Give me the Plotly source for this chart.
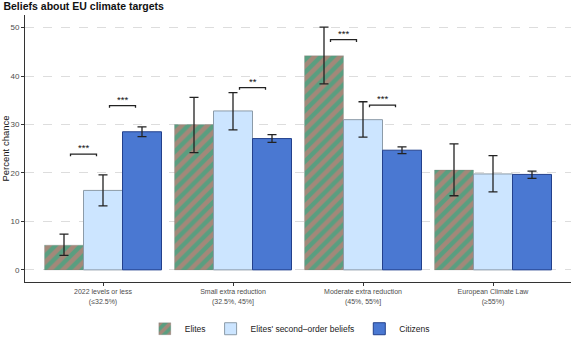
import plotly.graph_objects as go

categories = ["2022 levels or less<br>(≤32.5%)", "Small extra reduction<br>(32.5%, 45%]",
              "Moderate extra reduction<br>(45%, 55%]", "European Climate Law<br>(≥55%)"]
series_names = ["Elites", "Elites' second\u2013order beliefs", "Citizens"]

elites = [5.1, 30.0, 44.2, 20.6]
elites_lo = [3.0, 24.2, 38.4, 15.3]
elites_hi = [7.4, 35.6, 50.1, 26.0]

sob = [16.4, 32.8, 31.0, 19.8]
sob_lo = [13.2, 28.9, 27.4, 16.1]
sob_hi = [19.6, 36.6, 34.7, 23.6]

citizens = [28.5, 27.1, 24.7, 19.7]
citizens_lo = [27.5, 26.3, 24.0, 18.9]
citizens_hi = [29.5, 27.9, 25.4, 20.4]

# (category index, bar a, bar b, height, label)
brackets = [(0, 0, 1, 23.9, "***"), (0, 1, 2, 33.9, "***"), (1, 1, 2, 37.6, "**"),
            (2, 0, 1, 47.5, "***"), (2, 1, 2, 34.0, "***")]

bar_w = 0.3
offsets = [-0.3, 0.0, 0.3]

series = [
    (elites, elites_lo, elites_hi,
     dict(color="#5A9E80", line=dict(color="rgba(120,120,120,0.5)", width=0.5),
          pattern=dict(shape="/", bgcolor="#5A9E80", fgcolor="#EC7272", solidity=0.5, size=9))),
    (sob, sob_lo, sob_hi,
     dict(color="#CCE5FF", line=dict(color="#8C9BA8", width=1))),
    (citizens, citizens_lo, citizens_hi,
     dict(color="#4A78D2", line=dict(color="#23408C", width=1))),
]

fig = go.Figure()
for j, (vals, lo, hi, marker) in enumerate(series):
    xs = [i + offsets[j] for i in range(len(categories))]
    fig.add_trace(go.Bar(
        x=xs, y=vals, width=bar_w, name=series_names[j], marker=marker,
        error_y=dict(type="data", symmetric=False,
                     array=[h - v for h, v in zip(hi, vals)],
                     arrayminus=[v - l for v, l in zip(vals, lo)],
                     color="#222222", thickness=1.3, width=4.5),
    ))

shapes = []
annotations = []
gap = 0.05
tick = 0.45
for (c, a, b, yv, lab) in brackets:
    x0 = c + offsets[a] + gap
    x1 = c + offsets[b] - gap
    shapes.append(dict(type="path", xref="x", yref="y",
                       path=f"M {x0},{yv - tick} L {x0},{yv} L {x1},{yv} L {x1},{yv - tick}",
                       line=dict(color="#222222", width=1.3)))
    annotations.append(dict(x=(x0 + x1) / 2, y=yv, xref="x", yref="y", text=lab,
                            showarrow=False, yanchor="bottom", yshift=-1,
                            font=dict(size=9.5, color="#111111", family="Liberation Sans")))

fig.update_layout(
    width=575, height=338,
    margin=dict(l=25, r=4, t=15, b=56, autoexpand=False),
    plot_bgcolor="white", paper_bgcolor="white",
    font=dict(family="Liberation Sans", color="#4D4D4D", size=8),
    title=dict(text="<b>Beliefs about EU climate targets</b>", x=0.006, xanchor="left",
               y=0.992, yanchor="top", font=dict(size=10.5, color="#111111")),
    barmode="overlay",
    showlegend=True,
    legend=dict(orientation="h", x=0.485, xanchor="center", y=-0.175, yanchor="middle",
                font=dict(size=8.5, color="#222222"), itemwidth=30, traceorder="normal"),
    shapes=shapes, annotations=annotations,
)
fig.update_xaxes(range=[-0.6, 3.6], tickvals=list(range(len(categories))), ticktext=categories,
                 showgrid=False, zeroline=False, showline=True, linecolor="#333333", linewidth=1,
                 ticks="outside", ticklen=3, tickcolor="#333333", automargin=False,
                 tickfont=dict(size=7, color="#4D4D4D"))
fig.update_yaxes(range=[-2.5, 52.6], tickvals=[0, 10, 20, 30, 40, 50], showgrid=True,
                 gridcolor="#DDDDDD", griddash="dash", gridwidth=1, zeroline=False,
                 showline=True, linecolor="#333333", linewidth=1, ticks="outside", ticklen=3,
                 tickcolor="#333333", tickfont=dict(size=8, color="#4D4D4D"), automargin=False,
                 title=dict(text="Percent chance", font=dict(size=9.5, color="#111111"), standoff=2))

fig.write_html("out.html", config={"displayModeBar": False},
               post_script="document.body.style.margin='0';document.body.style.overflow='hidden';")
